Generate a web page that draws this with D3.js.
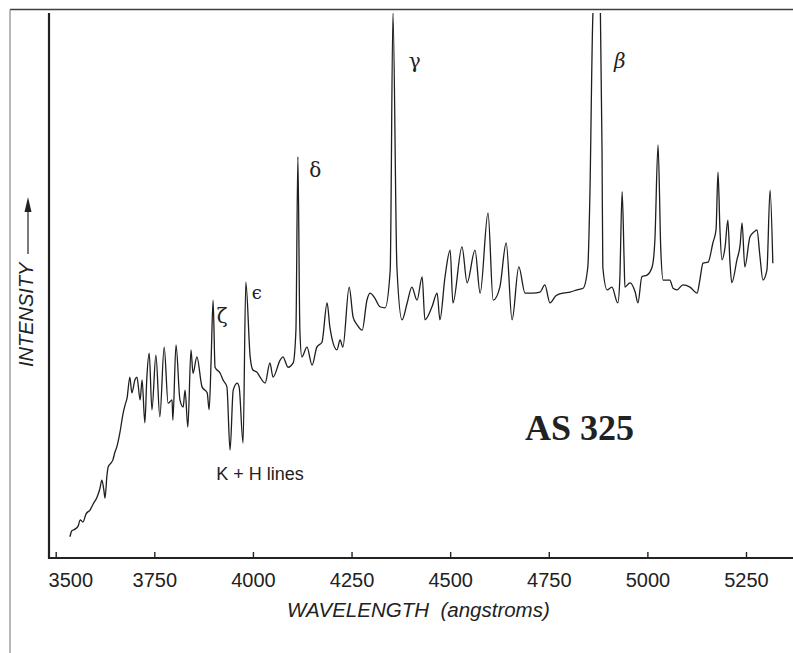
<!DOCTYPE html>
<html>
<head>
<meta charset="utf-8">
<script src="https://cdn.jsdelivr.net/npm/d3@7"></script>
<style>
  body { margin: 0; background: #fff; }
  svg { display: block; }
</style>
</head>
<body>
<script>
// spectrum of AS 325 (intensity in arbitrary units, 100 = top of frame)
var wavelength = [3536, 3541, 3549, 3557, 3562, 3569, 3577, 3587, 3595, 3605, 3612, 3617, 3622, 3625, 3630,
  3633, 3640, 3645, 3650, 3655, 3663, 3671, 3676, 3681, 3688, 3693, 3701, 3706, 3714, 3719,
  3726, 3731, 3737, 3744, 3754, 3764, 3775, 3785, 3795, 3797, 3805, 3815, 3823, 3828, 3835,
  3843, 3848, 3858, 3871, 3884, 3889, 3894, 3899, 3904, 3917, 3924, 3934, 3942, 3950, 3960,
  3965, 3975, 3982, 3993, 4000, 4010, 4018, 4031, 4043, 4051, 4069, 4076, 4089, 4102, 4109,
  4114, 4119, 4124, 4137, 4150, 4162, 4175, 4188, 4195, 4200, 4213, 4221, 4228, 4244, 4254,
  4264, 4277, 4289, 4297, 4309, 4322, 4335, 4348, 4355, 4365, 4378, 4391, 4403, 4416, 4429,
  4436, 4454, 4467, 4474, 4487, 4500, 4507, 4530, 4543, 4563, 4576, 4596, 4609, 4626, 4642,
  4657, 4674, 4690, 4710, 4728, 4740, 4753, 4768, 4786, 4804, 4822, 4837, 4849, 4854, 4862,
  4867, 4873, 4880, 4885, 4887, 4898, 4910, 4925, 4930, 4936, 4941, 4943, 4956, 4969, 4976,
  4986, 4999, 5012, 5019, 5027, 5034, 5040, 5057, 5065, 5075, 5090, 5108, 5126, 5133, 5141,
  5154, 5166, 5174, 5179, 5184, 5189, 5197, 5204, 5209, 5214, 5227, 5235, 5240, 5247, 5260,
  5270, 5278, 5285, 5293, 5303, 5311, 5318];

var intensity = [3.9, 5.0, 5.3, 5.9, 7.0, 6.6, 8.1, 8.8, 9.9, 11.2, 12.7, 14.3, 12.5, 11.0, 15.2,
  16.7, 17.4, 18.0, 19.4, 20.4, 23.1, 26.6, 28.1, 29.4, 33.2, 30.3, 32.7, 33.2, 29.0, 32.7,
  24.8, 33.0, 37.6, 27.2, 37.2, 25.9, 38.7, 28.4, 29.0, 25.3, 39.1, 29.0, 27.7, 30.8, 24.0,
  38.2, 33.9, 36.9, 31.4, 30.3, 27.2, 36.3, 47.3, 35.0, 33.9, 32.7, 31.4, 19.8, 30.8, 32.1,
  31.4, 21.1, 50.6, 36.9, 34.5, 34.1, 33.2, 32.1, 35.8, 33.2, 36.3, 36.9, 35.0, 35.8, 41.8,
  73.6, 41.8, 36.9, 38.7, 35.4, 38.7, 39.6, 46.8, 42.4, 40.4, 38.2, 40.0, 38.7, 49.7, 44.2,
  42.8, 41.8, 47.3, 48.6, 47.7, 46.1, 45.9, 52.8, 100, 53.4, 43.7, 46.8, 49.7, 47.3, 51.6,
  43.7, 46.1, 48.6, 43.7, 51.6, 56.5, 46.8, 57.1, 50.5, 56.5, 48.6, 63.3, 47.3, 49.7, 57.8,
  43.7, 53.4, 48.6, 48.6, 48.8, 50.1, 46.8, 48.1, 48.6, 48.8, 49.2, 49.5, 53.4, 65.7, 100,
  104, 125, 104, 74.9, 53.4, 49.2, 49.7, 46.8, 51.0, 67.2, 54.7, 49.7, 50.5, 48.8, 46.8,
  51.6, 51.9, 53.4, 58.3, 75.8, 56.5, 51.0, 51.0, 49.5, 49.2, 50.1, 49.7, 48.6, 51.0, 54.1,
  54.3, 57.8, 60.2, 70.8, 60.2, 54.7, 57.1, 62.0, 54.7, 50.5, 54.7, 57.4, 61.5, 53.4, 58.9,
  59.8, 60.2, 55.6, 51.0, 52.8, 67.5, 54.1];

var tickValues = [3500, 3750, 4000, 4250, 4500, 4750, 5000, 5250];

// line identifications (zeta, epsilon, delta, gamma, beta)
var lineLabels = ["\u03B6", "\u03F5", "\u03B4", "\u03B3", "\u03B2"];
var lineLabelWl = [3922, 4010, 4158, 4410, 4930];
var lineLabelI = [43.2, 47.5, 70.0, 90.0, 90.0];

var width = 793, height = 653;
var svg = d3.select("body").append("svg")
    .attr("width", width).attr("height", height);

var x = d3.scaleLinear().domain([3500, 5250]).range([55.7, 746]);
var y = d3.scaleLinear().domain([0, 100]).range([558, 13]);

// page frame of the scan
svg.append("line").attr("x1", 10).attr("x2", width).attr("y1", 9.5).attr("y2", 9.5)
    .attr("stroke", "#3d3d4a").attr("stroke-width", 1.6);
svg.append("line").attr("x1", 10).attr("x2", 10).attr("y1", 9.5).attr("y2", height)
    .attr("stroke", "#888").attr("stroke-width", 1.2);

svg.append("clipPath").attr("id", "plotclip")
  .append("rect").attr("x", 49).attr("y", y(100)).attr("width", width - 49).attr("height", 558 - y(100));

// x axis
var xAxis = d3.axisBottom(x).tickValues(tickValues).tickFormat(d3.format("d"))
    .tickSize(-6).tickPadding(15);
var gx = svg.append("g").attr("transform", "translate(0,558)").call(xAxis);
gx.select(".domain").remove();
gx.selectAll(".tick line").attr("stroke", "#222").attr("stroke-width", 1.4);
gx.selectAll(".tick text")
    .attr("font-family", "Liberation Sans, Arial, sans-serif")
    .attr("font-size", 20).attr("fill", "#222");
// first label sits clear of the y axis
gx.selectAll(".tick text").filter(function(d) { return d === 3500; })
    .attr("text-anchor", "start").attr("x", 48 - x(3500));

svg.append("line").attr("x1", 48).attr("x2", width).attr("y1", 558).attr("y2", 558)
    .attr("stroke", "#222").attr("stroke-width", 2);
svg.append("line").attr("x1", 49).attr("x2", 49).attr("y1", 13).attr("y2", 559)
    .attr("stroke", "#222").attr("stroke-width", 2.2);

svg.append("text").attr("x", 287).attr("y", 617)
    .attr("font-family", "Liberation Sans, Arial, sans-serif")
    .attr("font-size", 20.5).attr("font-style", "italic").attr("fill", "#222")
    .style("white-space", "pre")
    .text("WAVELENGTH  (angstroms)");

// y label with arrow
var yl = svg.append("g").attr("transform", "translate(33,367) rotate(-90)");
yl.append("text").attr("x", 0).attr("y", 0)
    .attr("font-family", "Liberation Sans, Arial, sans-serif")
    .attr("font-size", 20).attr("font-style", "italic").attr("fill", "#222")
    .text("INTENSITY");
yl.append("line").attr("x1", 113).attr("x2", 158).attr("y1", -5).attr("y2", -5)
    .attr("stroke", "#222").attr("stroke-width", 1.2);
yl.append("path").attr("d", "M155,-8.5 L170,-5 L155,-1.5 Z").attr("fill", "#222");

// spectrum
var pts = wavelength.map(function(w, i) { return [w, intensity[i]]; });
var line = d3.line()
    .curve(d3.curveMonotoneX)
    .x(function(d) { return x(d[0]); })
    .y(function(d) { return y(d[1]); });

svg.append("path").datum(pts)
    .attr("clip-path", "url(#plotclip)")
    .attr("d", line)
    .attr("fill", "none")
    .attr("stroke", "#1e1e1e")
    .attr("stroke-width", 1.3)
    .attr("stroke-linejoin", "round");

// greek labels
svg.selectAll(".greek").data(lineLabels).enter().append("text")
    .attr("class", "greek")
    .attr("x", function(d, i) { return x(lineLabelWl[i]); })
    .attr("y", function(d, i) { return y(lineLabelI[i]); })
    .attr("text-anchor", "middle")
    .attr("font-family", "DejaVu Serif, Liberation Serif, serif")
    .attr("font-style", function(d, i) { return i === 4 ? "italic" : "normal"; })
    .attr("font-size", function(d, i) { return i === 1 ? 18 : 20; })
    .attr("fill", "#222")
    .text(function(d) { return d; });

svg.append("text").attr("x", 260).attr("y", 480)
    .attr("text-anchor", "middle")
    .attr("font-family", "Liberation Sans, Arial, sans-serif")
    .attr("font-size", 18).attr("fill", "#222")
    .text("K + H lines");

svg.append("text").attr("x", 525).attr("y", 440)
    .attr("font-family", "Liberation Serif, Times New Roman, serif")
    .attr("font-weight", "bold").attr("font-size", 36).attr("fill", "#222")
    .text("AS 325");
</script>
</body>
</html>
